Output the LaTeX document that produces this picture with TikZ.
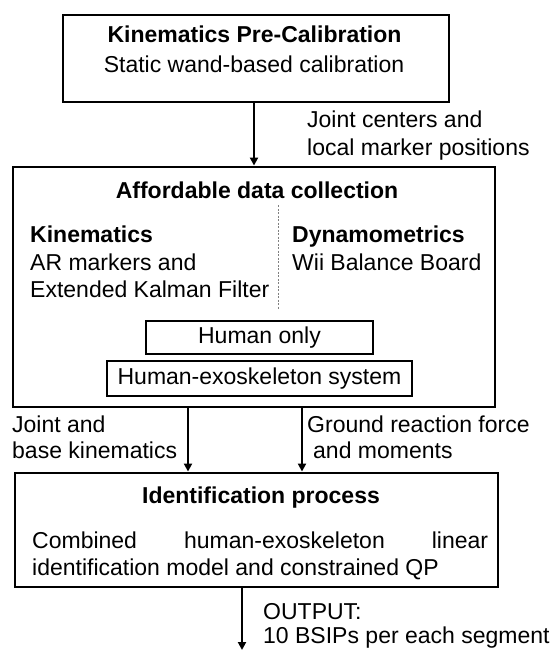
\documentclass[tikz,border=0pt]{standalone}
\usepackage{fontspec}
\setmainfont{Liberation Sans}
\usetikzlibrary{arrows.meta,calc}
\begin{document}
\begin{tikzpicture}[x=1pt,y=-1pt,
  box/.style={draw,line width=2.9pt,inner sep=0pt},
  ibox/.style={draw,line width=2.7pt,inner sep=0pt,font=\fontsize{23}{27}\selectfont},
  txt/.style={inner sep=0pt,font=\fontsize{23}{28}\selectfont},
  btxt/.style={inner sep=0pt,font=\fontsize{23}{28}\selectfont\bfseries},
  arr/.style={line width=2.4pt,-{Triangle[length=8pt,width=8pt]}}]
\useasboundingbox (0,0) rectangle (555,650);
% boxes
\node[box,minimum width=386pt,minimum height=87pt] (b1) at (256,58.5) {};
\node[box,minimum width=482pt,minimum height=240pt] (b2) at (254,287) {};
\node[box,minimum width=483pt,minimum height=114pt] (b3) at (256.5,530) {};
\node[ibox,minimum width=227pt,minimum height=33pt] (ho) at (259.5,337.5) {Human only};
\node[ibox,minimum width=305pt,minimum height=35pt] (he) at (259.5,378.5) {Human-exoskeleton system};
% box 1 text
\node[btxt,anchor=base] (t1) at (254.5,43) {Kinematics Pre-Calibration};
\node[txt,anchor=base] (t2) at (254,73) {Static wand-based calibration};
% arrow 1
\coordinate (a1) at (254,0);
\draw[arr] (b1.south -| a1) -- (b2.north -| a1);
\node[txt,anchor=base west] (l1a) at (307,128) {Joint centers and};
\node[txt,anchor=base west] (l1b) at (307,155) {local marker positions};
% box 2 text
\node[btxt,anchor=base] (t3) at (257,198) {Affordable data collection};
\node[btxt,anchor=base west] (k1) at (30,242) {Kinematics};
\node[txt,anchor=base west] (k2) at (30,270) {AR markers and};
\node[txt,anchor=base west] (k3) at (30,297) {Extended Kalman Filter};
\node[btxt,anchor=base west] (d1) at (292,242) {Dynamometrics};
\node[txt,anchor=base west] (d2) at (292,270) {Wii Balance Board};
\coordinate (dtop) at (278,205);
\coordinate (dbot) at (278,310);
\draw[line width=0.8pt,gray,dash pattern=on 2pt off 1.5pt] (dtop) -- (dbot);
% arrows 2,3
\coordinate (a2) at (188,0);
\coordinate (a3) at (302,0);
\draw[arr] (b2.south -| a2) -- (b3.north -| a2);
\draw[arr] (b2.south -| a3) -- (b3.north -| a3);
\node[txt,anchor=base west] (l2a) at (12,432) {Joint and};
\node[txt,anchor=base west] (l2b) at (12,458) {base kinematics};
\node[txt,anchor=base west] (l3a) at (307,432) {Ground reaction force};
\node[txt,anchor=base west] (l3b) at (313,458) {and moments};
% box 3 text
\node[btxt,anchor=base] (t4) at (261,503) {Identification process};
\node[txt,anchor=base west] (c1) at (32,548) {\makebox[456pt][s]{Combined\hfill human-exoskeleton\hfill linear}};
\node[txt,anchor=base west] (c2) at (32,575) {identification model and constrained QP};
% output arrow
\coordinate (a4) at (242,0);
\coordinate (oend) at (242,650);
\draw[arr] (b3.south -| a4) -- (oend);
\node[txt,anchor=base west] (o1) at (263,619) {OUTPUT:};
\node[txt,anchor=base west] (o2) at (263,643) {10 BSIPs per each segment};
\end{tikzpicture}
\end{document}
